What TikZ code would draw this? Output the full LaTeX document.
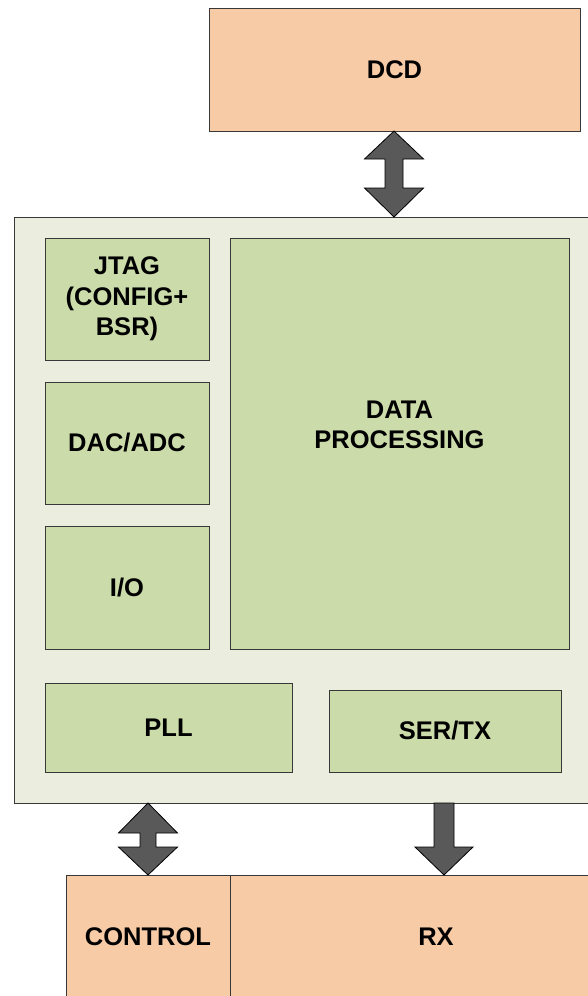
\documentclass[tikz,border=0pt]{standalone}
\usepackage{fontspec}
\setmainfont{Liberation Sans}
\definecolor{peach}{HTML}{F8CBA7}
\definecolor{paleg}{HTML}{EBEEDE}
\definecolor{blockg}{HTML}{CBDBA9}
\definecolor{arrowg}{HTML}{595959}
\definecolor{edgeg}{HTML}{383838}
\begin{document}
\begin{tikzpicture}[x=1pt,y=-1pt,
  blk/.style={draw=edgeg,line width=0.9pt,inner sep=0pt,outer sep=0pt},
  lbl/.style={font=\bfseries\fontsize{25.5}{30.5}\selectfont,align=center,inner sep=0pt},
  bigarrow/.style={fill=arrowg,draw=black,line width=0.8pt,line join=miter}]
\useasboundingbox (0,0) rectangle (588,996);
\fill[white] (0,0) rectangle (588,996);
\clip (0,0) rectangle (588,996);
% top box
\node[blk,fill=peach,minimum width=371pt,minimum height=123pt] (dcd) at (394.5,69.5) {};
\node[lbl] (dcdt) at (dcd.center) {DCD};
% main box
\node[blk,fill=paleg,minimum width=600pt,minimum height=586pt] (main) at (314,510) {};
% inner blocks
\node[blk,fill=blockg,minimum width=164pt,minimum height=122pt] (jtag) at (127,299) {};
\node[lbl] at (jtag.center) {JTAG\\(CONFIG+\\BSR)};
\node[blk,fill=blockg,minimum width=164pt,minimum height=122pt] (dac) at (127,443) {};
\node[lbl] at (dac.center) {DAC/ADC};
\node[blk,fill=blockg,minimum width=164pt,minimum height=123pt] (io) at (127,587.5) {};
\node[lbl] at (io.center) {I/O};
\node[blk,fill=blockg,minimum width=339pt,minimum height=411pt] (dp) at (399.5,443.5) {};
\node[lbl] (dpt) at (399.5,425) {DATA\\PROCESSING};
\node[blk,fill=blockg,minimum width=247pt,minimum height=89pt] (pll) at (168.5,727.5) {};
\node[lbl] at (pll.center) {PLL};
\node[blk,fill=blockg,minimum width=232pt,minimum height=82pt] (ser) at (445,731) {};
\node[lbl] at (ser.center) {SER/TX};
% bottom boxes
\node[blk,fill=peach,minimum width=164pt,minimum height=123pt] (ctrl) at (148,936.5) {};
\node[lbl] at (ctrl.center) {CONTROL};
\node[blk,fill=peach,minimum width=410pt,minimum height=123pt] (rx) at (435,936.5) {};
\node[lbl] at (436,936.5) {RX};
% arrows
\coordinate (a1) at (dcd.south -| 394,0);
\coordinate (a2) at (main.north -| 394,0);
\draw[bigarrow] (a1) -- ++(29.5,28) -- ++(-20.5,0) -- ++(0,29) -- ++(20.5,0)
  -- (a2) -- ++(-29.5,-29) -- ++(20.5,0) -- ++(0,-29) -- ++(-20.5,0) -- cycle;
\coordinate (b1) at (main.south -| ctrl.north);
\coordinate (b2) at (ctrl.north);
\draw[bigarrow] (b1) -- ++(29.5,30) -- ++(-21.5,0) -- ++(0,14) -- ++(21.5,0)
  -- (b2) -- ++(-29.5,-28) -- ++(21.5,0) -- ++(0,-14) -- ++(-21.5,0) -- cycle;
\coordinate (c1) at (main.south -| 444,0);
\coordinate (c2) at (rx.north -| 444,0);
\draw[bigarrow] (c1) ++(-10,0) -- ++(20,0) -- ++(0,44) -- ++(19,0)
  -- (c2) -- ++(-29,-28) -- ++(19,0) -- cycle;
\end{tikzpicture}
\end{document}
